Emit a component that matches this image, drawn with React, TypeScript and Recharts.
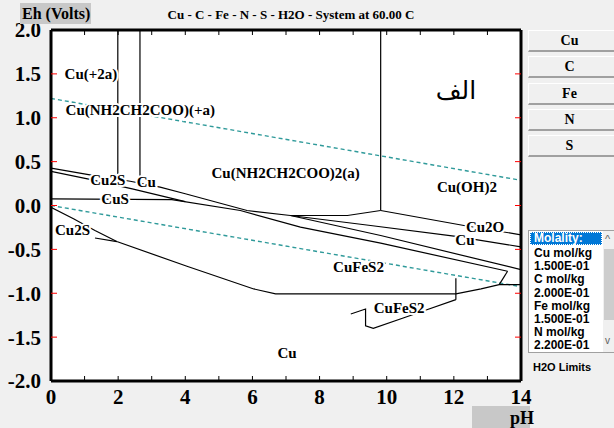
import React from 'react';
import { ComposedChart, Line, Scatter, XAxis, YAxis } from 'recharts';

// boundary lines as (pH, Eh) pairs
const cu2sUpper = [
  { x: 0, y: 0.427 }, { x: 1.16, y: 0.35 }, { x: 2.36, y: 0.276 }, { x: 3.25, y: 0.21 },
  { x: 4.0, y: 0.134 }, { x: 5.84, y: -0.057 }, { x: 7.13, y: -0.114 }, { x: 8.83, y: -0.114 },
  { x: 9.82, y: -0.057 },
];
const cu2sLower = [{ x: 0, y: 0.388 }, { x: 1.16, y: 0.297 }, { x: 2.42, y: 0.19 }, { x: 4.0, y: 0.045 }];
const cusLine = [
  { x: 0, y: 0.076 }, { x: 3.6, y: 0.068 }, { x: 5.64, y: -0.057 }, { x: 7.43, y: -0.247 },
  { x: 9.82, y: -0.429 }, { x: 13.6, y: -0.749 },
];
const cu2oTop = [{ x: 9.82, y: -0.057 }, { x: 12.3, y: -0.228 }, { x: 14, y: -0.334 }];
const cuLine = [{ x: 7.13, y: -0.114 }, { x: 9.52, y: -0.228 }, { x: 12.06, y: -0.352 }, { x: 14, y: -0.471 }];
const sulfLine = [{ x: 7.13, y: -0.114 }, { x: 9.82, y: -0.342 }, { x: 14, y: -0.731 }];
const vert1 = [{ x: 1.99, y: 2 }, { x: 1.99, y: 0.36 }];
const vert2 = [{ x: 2.65, y: 2 }, { x: 2.65, y: 0.33 }];
const vert3 = [{ x: 9.82, y: 2 }, { x: 9.82, y: -0.057 }];
const bottomLine = [
  { x: 0, y: -0.02 }, { x: 0.67, y: -0.152 }, { x: 1.31, y: -0.285 }, { x: 1.96, y: -0.411 },
  { x: 4.05, y: -0.692 }, { x: 6.04, y: -0.951 }, { x: 6.69, y: -1.008 }, { x: 12.06, y: -1.008 },
  { x: 12.81, y: -0.951 }, { x: 13.35, y: -0.902 }, { x: 14, y: -0.902 },
];
const bottomShort = [{ x: 1.31, y: -0.37 }, { x: 1.96, y: -0.411 }];
const fesVert = [{ x: 12.06, y: -0.829 }, { x: 12.06, y: -1.073 }];
const fesV = [{ x: 13.35, y: -0.902 }, { x: 13.6, y: -0.749 }];
const fesLower = [
  { x: 12.06, y: -1.073 }, { x: 11.11, y: -1.199 }, { x: 10.47, y: -1.285 }, { x: 9.6, y: -1.4 },
  { x: 9.37, y: -1.37 }, { x: 9.37, y: -1.18 }, { x: 8.93, y: -1.236 },
];
const boundaries = [
  cu2sUpper, cu2sLower, cusLine, cu2oTop, cuLine, sulfLine, vert1, vert2, vert3,
  bottomLine, bottomShort, fesVert, fesV, fesLower,
];

// water stability limits
const waterUpper = [{ x: 0, y: 1.22 }, { x: 14, y: 0.287 }];
const waterLower = [{ x: 0, y: 0 }, { x: 14, y: -0.925 }];

const labels = [
  { x: 1.19, y: 1.5, text: 'Cu(+2a)' },
  { x: 2.66, y: 1.087, text: 'Cu(NH2CH2COO)(+a)' },
  { x: 6.99, y: 0.368, text: 'Cu(NH2CH2COO)2(a)' },
  { x: 12.39, y: 0.208, text: 'Cu(OH)2' },
  { x: 1.69, y: 0.293, text: 'Cu2S' },
  { x: 2.84, y: 0.265, text: 'Cu' },
  { x: 1.91, y: 0.076, text: 'CuS' },
  { x: 0.64, y: -0.277, text: 'Cu2S' },
  { x: 12.93, y: -0.245, text: 'Cu2O' },
  { x: 12.33, y: -0.39, text: 'Cu' },
  { x: 9.16, y: -0.694, text: 'CuFeS2' },
  { x: 10.37, y: -1.168, text: 'CuFeS2' },
  { x: 7.03, y: -1.68, text: 'Cu' },
];
const arabicLabel = [{ x: 12.06, y: 1.31, text: 'الف' }];

const phTicks = [0, 1, 2, 3, 4, 5, 6, 7, 8, 9, 10, 11, 12, 13, 14];
const ehTicks = [-2, -1.5, -1, -0.5, 0, 0.5, 1, 1.5, 2];

const elements = ['Cu', 'C', 'Fe', 'N', 'S'];
const molality = [
  'Cu mol/kg', '1.500E-01', 'C mol/kg', '2.000E-01',
  'Fe mol/kg', '1.500E-01', 'N mol/kg', '2.200E-01',
];

const serif = '"Liberation Serif", "Times New Roman", serif';
const sans = '"Liberation Sans", Arial, sans-serif';

// plot frame in pixels (layout only)
const PLOT_TOP = 30;
const PLOT_BOTTOM = 381;
const PLOT_LEFT = 51;
const PLOT_RIGHT = 521;

const SpeciesLabel = (p: any) => (
  <text
    x={p.cx}
    y={p.cy}
    dy="0.35em"
    textAnchor="middle"
    fontFamily={serif}
    fontWeight="bold"
    fontSize={15}
    fill="#000"
    stroke="#fff"
    strokeWidth={4}
    paintOrder="stroke"
  >
    {p.payload.text}
  </text>
);

const ArabicText = (p: any) => (
  <text x={p.cx} y={p.cy} dy="0.35em" textAnchor="middle" fontFamily='"DejaVu Sans", sans-serif' fontSize={25} fill="#000">
    {p.payload.text}
  </text>
);

// pH ticks: inward marks on bottom and top frame, labels on even values
const PhTick = (p: any) => {
  const v = p.payload.value;
  const x = p.x;
  return (
    <g>
      <line x1={x} x2={x} y1={PLOT_BOTTOM} y2={PLOT_BOTTOM - 5} stroke="#000" />
      <line x1={x} x2={x} y1={PLOT_TOP} y2={PLOT_TOP + 5} stroke="#000" />
      {v % 2 === 0 && (
        <text x={x} y={p.y} dy="0.71em" textAnchor="middle" fontFamily={serif} fontWeight="bold" fontSize={21} fill="#000">
          {v}
        </text>
      )}
    </g>
  );
};

// Eh ticks: labels on the left, red inward marks on both sides
const EhTick = (p: any) => {
  const v = p.payload.value;
  const y = p.y;
  const inner = Math.abs(v) < 2;
  return (
    <g>
      {inner && <line x1={PLOT_LEFT} x2={PLOT_LEFT + 6} y1={y} y2={y} stroke="#ff0000" />}
      {inner && <line x1={PLOT_RIGHT - 6} x2={PLOT_RIGHT} y1={y} y2={y} stroke="#ff0000" />}
      <text x={p.x} y={y} dy="0.355em" textAnchor="end" fontFamily={serif} fontWeight="bold" fontSize={21} fill="#000">
        {v.toFixed(1)}
      </text>
    </g>
  );
};

export default function App() {
  return (
    <div style={{ position: 'absolute', left: 0, top: 0, width: 614, height: 428, background: '#f0f0f0', overflow: 'hidden' }}>
      <div style={{ position: 'absolute', left: 51, top: 30, width: 470, height: 351, background: '#fff' }} />
      <div style={{ position: 'absolute', left: 0, top: 0 }}>
        <ComposedChart width={614} height={428} margin={{ top: 30, right: 93, bottom: 46, left: 50 }}>
          <XAxis
            xAxisId={0}
            type="number"
            dataKey="x"
            domain={[0, 14]}
            ticks={phTicks}
            interval={0}
            allowDataOverflow
            height={1}
            tickLine={false}
            tickSize={0}
            tickMargin={8}
            axisLine={{ stroke: '#000', strokeWidth: 3 }}
            tick={PhTick}
          />
          <XAxis xAxisId="top" orientation="top" type="number" dataKey="x" domain={[0, 14]} mirror height={1}
            allowDataOverflow tick={false} tickLine={false} axisLine={{ stroke: '#000', strokeWidth: 3 }} />
          <YAxis
            yAxisId={0}
            type="number"
            domain={[-2, 2]}
            ticks={ehTicks}
            interval={0}
            allowDataOverflow
            width={1}
            tickLine={false}
            tickSize={0}
            tickMargin={10}
            axisLine={{ stroke: '#000', strokeWidth: 3 }}
            tick={EhTick}
          />
          <YAxis yAxisId="rt" orientation="right" type="number" domain={[-2, 2]} mirror width={1}
            allowDataOverflow tick={false} tickLine={false} axisLine={{ stroke: '#000', strokeWidth: 3 }} />

          {[waterUpper, waterLower].map((d, i) => (
            <Line key={'w' + i} data={d} dataKey="y" type="linear" stroke="#2f9a9a" strokeWidth={1.4}
              strokeDasharray="4 3" dot={false} activeDot={false} isAnimationActive={false} />
          ))}
          {boundaries.map((d, i) => (
            <Line key={'b' + i} data={d} dataKey="y" type="linear" stroke="#000" strokeWidth={1.2}
              dot={false} activeDot={false} isAnimationActive={false} />
          ))}
          <Scatter data={labels} dataKey="y" shape={SpeciesLabel} isAnimationActive={false} />
          <Scatter data={arabicLabel} dataKey="y" shape={ArabicText} isAnimationActive={false} />
        </ComposedChart>
      </div>

      <div style={{ position: 'absolute', left: 20, top: 3, width: 71, height: 21, background: '#c8c8c8' }} />
      <div style={{ position: 'absolute', left: 22, top: 3, fontFamily: serif, fontWeight: 'bold', fontSize: 16, lineHeight: '21px', color: '#000' }}>
        Eh (Volts)
      </div>
      <div style={{ position: 'absolute', left: 0, top: 7, width: 614, textAlign: 'center', fontFamily: serif, fontWeight: 'bold', fontSize: 13, lineHeight: '16px' }}>
        <span style={{ position: 'relative', left: -16 }}>Cu - C - Fe - N - S - H2O - System at 60.00 C</span>
      </div>

      <div style={{ position: 'absolute', left: 472, top: 406, width: 58, height: 22, background: '#c8c8c8' }} />
      <div style={{ position: 'absolute', left: 510, top: 407, fontFamily: serif, fontWeight: 'bold', fontSize: 18, lineHeight: '22px' }}>pH</div>

      {elements.map((el, i) => (
        <div key={el} style={{
          position: 'absolute', left: 528, top: 30 + i * 26.3, width: 90, height: 22, boxSizing: 'border-box',
          background: '#f0f0f0', borderTop: '1px solid #fff', borderLeft: '1px solid #fff',
          borderBottom: '2px solid #a0a0a0', textAlign: 'center', fontFamily: serif, fontWeight: 'bold',
          fontSize: 14, lineHeight: '20px', color: '#000', paddingRight: 8,
        }}>{el}</div>
      ))}

      <div style={{ position: 'absolute', left: 528, top: 230, width: 90, height: 123, boxSizing: 'border-box', background: '#fff', border: '1px solid #a0a0a0' }}>
        <div style={{ position: 'absolute', left: 1, top: 1, width: 72, height: 13, background: '#0078d7', outline: '1px dotted #fff', outlineOffset: -1,
          color: '#fff', fontFamily: sans, fontWeight: 'bold', fontSize: 12, lineHeight: '13px', paddingLeft: 4, boxSizing: 'border-box' }}>
          Molality:
        </div>
        {molality.map((t, i) => (
          <div key={i} style={{ position: 'absolute', left: 5, top: 16 + i * 13.2, fontFamily: sans, fontWeight: 'bold', fontSize: 12, lineHeight: '13px', color: '#000', whiteSpace: 'nowrap' }}>
            {t}
          </div>
        ))}
        <div style={{ position: 'absolute', left: 74, top: 0, width: 16, height: 121, background: '#f0f0f0' }}>
          <div style={{ position: 'absolute', left: 1, top: 18, width: 15, height: 71, background: '#cdcdcd' }} />
          <div style={{ position: 'absolute', left: 2, top: 2, fontFamily: sans, fontSize: 11, color: '#606060' }}>^</div>
          <div style={{ position: 'absolute', left: 2, top: 104, fontFamily: sans, fontSize: 10, color: '#606060' }}>v</div>
        </div>
      </div>
      <div style={{ position: 'absolute', left: 533, top: 360, fontFamily: sans, fontWeight: 'bold', fontSize: 11, lineHeight: '14px', color: '#000' }}>
        H2O Limits
      </div>
    </div>
  );
}
